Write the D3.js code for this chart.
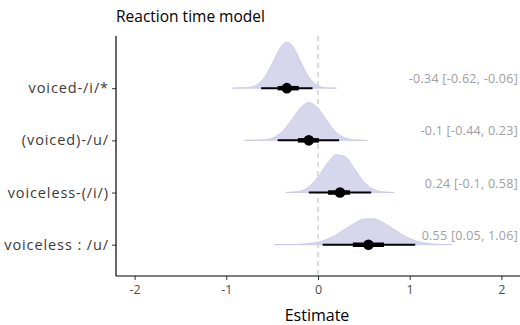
<!DOCTYPE html>
<html><head><meta charset="utf-8">
<script src="https://cdn.jsdelivr.net/npm/d3@7"></script>
<style>body{margin:0;background:#fff}svg{display:block}text{font-family:"Open Sans", sans-serif}</style>
</head><body><svg id="c" width="520" height="325"></svg>
<script>
// categories, top to bottom
const categories = ["voiced-/i/*", "(voiced)-/u/", "voiceless-(/i/)", "voiceless : /u/"];
const estimates = [-0.34, -0.10, 0.24, 0.55];
const ci95Low = [-0.62, -0.44, -0.10, 0.05];
const ci95High = [-0.06, 0.23, 0.58, 1.06];
const ci66Low = [-0.44, -0.22, 0.11, 0.38];
const ci66High = [-0.21, 0.01, 0.35, 0.72];
const labels = ["-0.34 [-0.62, -0.06]", "-0.1 [-0.44, 0.23]", "0.24 [-0.1, 0.58]", "0.55 [0.05, 1.06]"];
const xTicks = [-2, -1, 0, 1, 2];
const xTickLabels = ["-2", "-1", "0", "1", "2"];
// posterior density curves (x grid, density)
const densX = [
  [-0.93,-0.8,-0.7,-0.6,-0.5,-0.45,-0.4,-0.35,-0.3,-0.25,-0.2,-0.1,0,0.1,0.2],
  [-0.8,-0.7,-0.6,-0.5,-0.4,-0.3,-0.2,-0.1,0,0.1,0.2,0.3,0.4,0.54],
  [-0.35,-0.2,-0.1,0,0.1,0.2,0.3,0.4,0.5,0.6,0.7,0.83],
  [-0.48,-0.3,-0.1,0,0.1,0.2,0.3,0.4,0.5,0.6,0.7,0.8,0.9,1.0,1.1,1.2,1.3,1.46]
];
const densY = [
  [0.01,0.02,0.12,0.53,1.49,2.07,2.55,2.78,2.70,2.33,1.74,0.68,0.16,0.02,0.005],
  [0.005,0.01,0.03,0.14,0.48,1.15,1.93,2.30,1.95,1.17,0.48,0.14,0.03,0.005],
  [0.01,0.08,0.35,0.94,1.76,2.30,2.18,1.43,0.66,0.21,0.05,0.005],
  [0.01,0.01,0.07,0.16,0.34,0.61,0.97,1.31,1.56,1.58,1.38,1.04,0.68,0.38,0.18,0.08,0.03,0.005]
];

const svg = d3.select("#c");
const L = 116, R = 520, T = 36, B = 276;
const x = d3.scaleLinear().domain([-2.203, 2.203]).range([L, R]);
// row index 0 = bottom row
const row = d3.scaleLinear().domain([-0.6, 4.0]).range([B, T]);
const rowY = i => row(categories.length - 1 - i);
const h = d3.scaleLinear().domain([0, 2.8]).range([0, 46]);

// zero reference line
svg.append("line").attr("x1", x(0)).attr("x2", x(0)).attr("y1", T).attr("y2", B)
  .attr("stroke", "#b8b8b8").attr("stroke-width", 1).attr("stroke-dasharray", "5,4");

categories.forEach((c, i) => {
  const y0 = rowY(i);
  const pts = densX[i].map((v, k) => [v, densY[i][k]]);
  svg.append("path")
    .attr("d", d3.area().curve(d3.curveMonotoneX).x(d => x(d[0])).y0(y0).y1(d => y0 - h(d[1]))(pts))
    .attr("fill", "#d6d6ec").attr("stroke", "#c6c6e4").attr("stroke-width", 0.8);
});

categories.forEach((c, i) => {
  const y0 = rowY(i);
  svg.append("line").attr("x1", x(ci95Low[i])).attr("x2", x(ci95High[i])).attr("y1", y0).attr("y2", y0)
    .attr("stroke", "#000").attr("stroke-width", 2);
  svg.append("line").attr("x1", x(ci66Low[i])).attr("x2", x(ci66High[i])).attr("y1", y0).attr("y2", y0)
    .attr("stroke", "#000").attr("stroke-width", 4.5);
  svg.append("circle").attr("cx", x(estimates[i])).attr("cy", y0).attr("r", 5.3).attr("fill", "#000");
  svg.append("text").attr("x", 518).attr("y", y0 - 5).attr("text-anchor", "end")
    .attr("font-size", 12.5).attr("letter-spacing", 0.25).attr("fill", "#a0a0a0").text(labels[i]);
});

// axes
const xAxis = svg.append("g").attr("transform", `translate(0,${B})`)
  .call(d3.axisBottom(x).tickValues(xTicks).tickSize(4).tickFormat((d, k) => xTickLabels[k]));
xAxis.select(".domain").remove();
xAxis.selectAll(".tick line").attr("stroke", "#333");
xAxis.selectAll(".tick text").attr("font-size", 12.5).attr("fill", "#4d4d4d").attr("dy", "0.9em")
  .style("font-family", "'Open Sans', sans-serif");
svg.append("line").attr("x1", L).attr("x2", R).attr("y1", B).attr("y2", B).attr("stroke", "#000").attr("stroke-width", 1.2);

const yScale = d3.scalePoint().domain(categories).range([rowY(0), rowY(3)]);
const yAxis = svg.append("g").attr("transform", `translate(${L},0)`)
  .call(d3.axisLeft(yScale).tickSize(4).tickPadding(3));
yAxis.select(".domain").remove();
yAxis.selectAll(".tick line").attr("stroke", "#333");
yAxis.selectAll(".tick text").attr("font-size", 14.5).attr("letter-spacing", 0.9).attr("fill", "#3a3a3a")
  .style("font-family", "'Open Sans', sans-serif");
svg.append("line").attr("x1", L).attr("x2", L).attr("y1", T).attr("y2", B).attr("stroke", "#000").attr("stroke-width", 1.2);

svg.append("text").attr("x", 317).attr("y", 321).attr("text-anchor", "middle")
  .attr("font-size", 16).attr("fill", "#000").text("Estimate");
svg.append("text").attr("x", L).attr("y", 22).attr("font-size", 15.5).attr("font-weight", 500)
  .attr("fill", "#000").text("Reaction time model");
</script></body></html>
